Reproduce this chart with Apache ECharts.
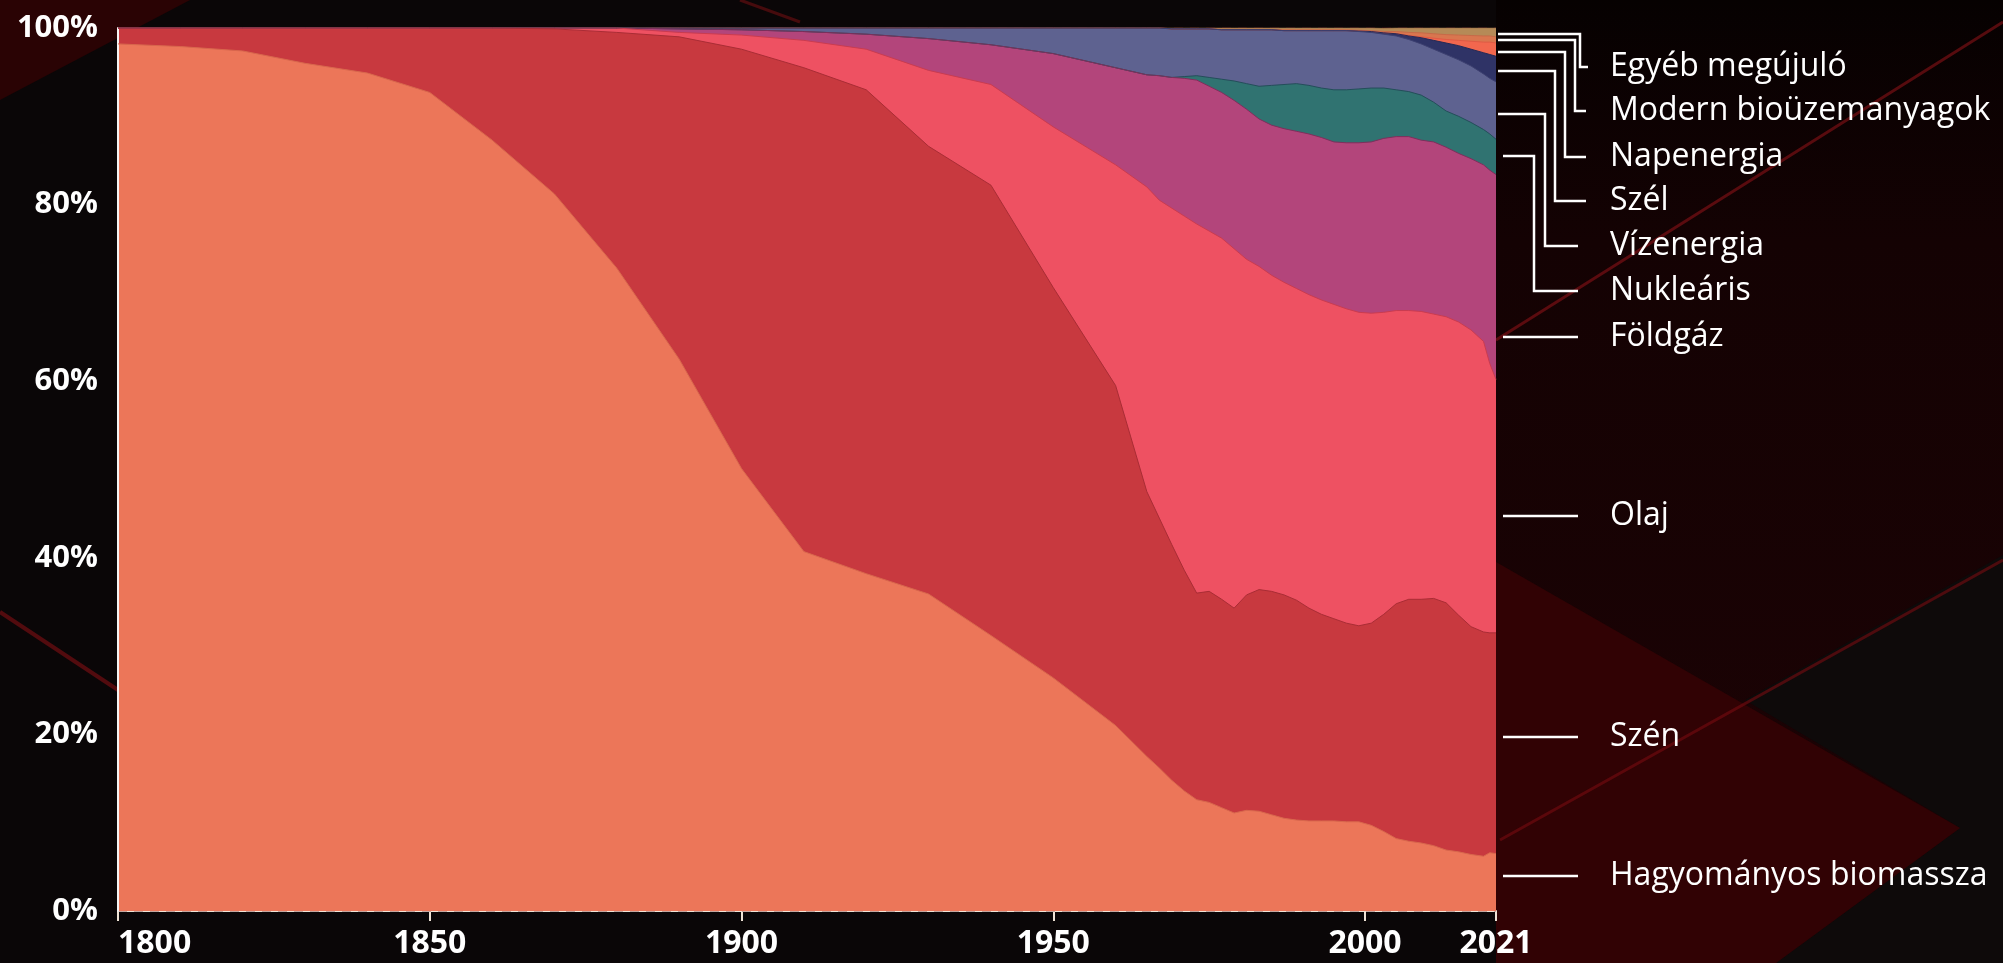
<!DOCTYPE html>
<html>
<head>
<meta charset="utf-8">
<title>Energiaforrások részesedése</title>
<script src="https://cdn.jsdelivr.net/npm/echarts@6/dist/echarts.min.js"></script>
<style>
  html, body { margin: 0; padding: 0; background: #0a0607; }
  #chart { width: 2003px; height: 963px; }
</style>
</head>
<body>
<div id="chart"></div>
<script>
// évek (1800-1960 évtizedenként, utána sűrűbben)
const years = [1800,1810,1820,1830,1840,1850,1860,1870,1880,1890,1900,1910,1920,1930,1940,1950,1960,1965,1967,1969,1971,1973,1975,1977,1979,1981,1983,1985,1987,1989,1991,1993,1995,1997,1999,2001,2003,2005,2007,2009,2011,2013,2015,2017,2019,2020,2021];

// részesedések %-ban
const biomass = [98.2,97.9,97.4,96.0,94.9,92.7,87.3,81.2,72.8,62.5,50.1,40.7,38.2,35.9,31.2,26.4,21.0,17.5,16.2,14.8,13.6,12.6,12.3,11.7,11.1,11.4,11.3,10.9,10.5,10.3,10.2,10.2,10.2,10.1,10.1,9.7,9.0,8.2,7.9,7.7,7.4,6.9,6.7,6.4,6.2,6.6,6.5];
const coal = [1.8,2.1,2.6,4.0,5.1,7.3,12.7,18.7,26.7,36.5,47.5,54.8,54.8,50.7,51.0,44.2,38.5,30.0,28.3,26.7,25.0,23.4,23.9,23.6,23.2,24.4,25.1,25.3,25.3,24.9,24.1,23.4,22.9,22.5,22.2,22.9,24.6,26.6,27.4,27.6,28.0,28.0,26.8,25.8,25.4,24.9,25.0];
const oil = [0,0,0,0,0,0,0,0.1,0.5,0.5,1.6,3.1,4.6,8.6,11.4,18.2,25.0,34.5,36.0,38.1,40.1,41.8,40.8,40.9,40.7,38.0,36.6,35.8,35.4,35.3,35.5,35.6,35.6,35.6,35.5,35.1,34.2,33.2,32.7,32.6,32.2,32.4,33.2,33.6,32.9,30.5,28.7];
const gas = [0,0,0,0,0,0,0,0,0,0.4,0.6,1.0,1.7,3.6,4.5,8.3,11.0,12.7,14.1,14.8,15.6,16.3,16.4,16.5,16.8,17.0,16.7,17.0,17.4,17.8,18.2,18.4,18.4,18.8,19.2,19.4,19.7,19.7,19.7,19.4,19.5,19.2,19.1,19.4,20.0,21.9,23.2];
const nuclear = [0,0,0,0,0,0,0,0,0,0,0,0,0,0,0,0,0,0,0,0,0.2,0.5,1.0,1.5,2.2,2.9,3.7,4.5,5.0,5.4,5.5,5.6,5.9,6.0,6.1,6.1,5.7,5.3,5.1,5.1,4.5,4.1,4.2,4.1,4.0,4.1,4.0];
const hydro = [0,0,0,0,0,0,0,0,0,0.1,0.2,0.4,0.7,1.2,1.9,2.9,4.5,5.3,5.4,5.5,5.4,5.3,5.5,5.6,5.8,6.1,6.4,6.3,6.1,6.0,6.2,6.5,6.7,6.7,6.5,6.3,6.1,6.1,5.9,5.8,6.0,6.4,6.4,6.4,6.3,6.3,6.5];
const wind = [0,0,0,0,0,0,0,0,0,0,0,0,0,0,0,0,0,0,0,0,0,0,0,0,0,0,0,0,0,0,0,0,0,0,0.05,0.1,0.15,0.25,0.4,0.7,1.0,1.3,1.6,1.9,2.4,2.7,2.9];
const solar = [0,0,0,0,0,0,0,0,0,0,0,0,0,0,0,0,0,0,0,0,0,0,0,0,0,0,0,0,0,0,0,0,0,0,0,0,0.01,0.02,0.05,0.1,0.25,0.4,0.6,0.9,1.2,1.4,1.5];
const biofuel = [0,0,0,0,0,0,0,0,0,0,0,0,0,0,0,0,0,0,0,0,0,0,0,0.05,0.05,0.05,0.05,0.05,0.1,0.1,0.1,0.1,0.1,0.1,0.1,0.1,0.15,0.23,0.35,0.45,0.5,0.55,0.6,0.65,0.7,0.7,0.7];
const otherRen = [0,0,0,0,0,0,0,0,0,0,0,0,0,0,0,0,0,0,0,0.1,0.1,0.1,0.1,0.15,0.15,0.15,0.15,0.15,0.2,0.2,0.2,0.2,0.2,0.2,0.25,0.3,0.35,0.4,0.5,0.55,0.65,0.75,0.8,0.85,0.9,0.9,1.0];

const xTicks = [1800, 1850, 1900, 1950, 2000, 2021];

// alulról felfelé
const layers = [
  { name: 'Hagyományos biomassza', data: biomass, color: '#EC7659', edge: '#d8674d' },
  { name: 'Szén', data: coal, color: '#C8393F', edge: '#a92d35' },
  { name: 'Olaj', data: oil, color: '#EE5162', edge: '#c93c50' },
  { name: 'Földgáz', data: gas, color: '#B3457B', edge: '#7e2f5c' },
  { name: 'Nukleáris', data: nuclear, color: '#307371', edge: '#244e5a' },
  { name: 'Vízenergia', data: hydro, color: '#5E6290', edge: '#3d4070' },
  { name: 'Szél', data: wind, color: '#2F3366', edge: '#262955' },
  { name: 'Napenergia', data: solar, color: '#F2674E', edge: '#e05a45' },
  { name: 'Modern bioüzemanyagok', data: biofuel, color: '#D9764F', edge: '#c66a48' },
  { name: 'Egyéb megújuló', data: otherRen, color: '#B58A57', edge: '#a37a4c' }
];

// jobb oldali feliratok: [szöveg, felirat y, vonal y a diagramnál, könyök x, vonal vége x]
const labelLayout = [
  ['Egyéb megújuló', 67, 34, 1580, 1588],
  ['Modern bioüzemanyagok', 111, 40, 1575, 1586],
  ['Napenergia', 157, 52, 1565, 1586],
  ['Szél', 201, 71, 1555, 1586],
  ['Vízenergia', 246, 114, 1545, 1578],
  ['Nukleáris', 291, 156, 1534, 1578],
  ['Földgáz', 337, null],
  ['Olaj', 516, null],
  ['Szén', 737, null],
  ['Hagyományos biomassza', 876, null]
];

// halmozott felső határok (minden réteg 0-tól a saját tetejéig, felülről lefelé rajzolva)
let running = years.map(function () { return 0; });
const tops = layers.map(function (l) {
  running = running.map(function (v, i) { return v + l.data[i]; });
  return running.slice();
});

const chart = echarts.init(document.getElementById('chart'));

const bg = [
  { type: 'polygon', z: 0, shape: { points: [[1496, 0], [2003, 0], [2003, 963], [1496, 963]] },
    style: { fill: new echarts.graphic.LinearGradient(0, 0, 0, 1, [
      { offset: 0, color: '#060101' }, { offset: 0.25, color: '#140203' }, { offset: 1, color: '#1d0305' }]) } },
  { type: 'polygon', z: 0, shape: { points: [[1745, 700], [2003, 555], [2003, 963], [1776, 963], [1960, 828]] },
    style: { fill: '#0e0a0a' } },
  { type: 'polygon', z: 0, shape: { points: [[1496, 562], [1960, 828], [1776, 963], [1496, 963]] },
    style: { fill: '#310204' } },
  { type: 'polygon', z: 0, shape: { points: [[0, 0], [190, 0], [0, 100]] },
    style: { fill: '#2a0304' } },
  { type: 'line', z: 0, shape: { x1: 1496, y1: 340, x2: 2003, y2: 22 },
    style: { stroke: 'rgba(150,20,25,0.55)', lineWidth: 3 } },
  { type: 'line', z: 0, shape: { x1: 1500, y1: 840, x2: 2003, y2: 560 },
    style: { stroke: 'rgba(120,12,16,0.6)', lineWidth: 3 } },
  { type: 'line', z: 0, shape: { x1: 0, y1: 612, x2: 118, y2: 690 },
    style: { stroke: 'rgba(130,15,20,0.6)', lineWidth: 4 } },
  { type: 'line', z: 0, shape: { x1: 740, y1: 0, x2: 800, y2: 22 },
    style: { stroke: 'rgba(130,15,20,0.5)', lineWidth: 3 } }
];

const labels = [];
labelLayout.forEach(function (l) {
  let pts;
  if (l[2] === null) {
    pts = [[1503, l[1]], [1578, l[1]]];
  } else {
    const x0 = l[0] === 'Nukleáris' ? 1503 : 1498;
    pts = [[x0, l[2]], [l[3], l[2]], [l[3], l[1]], [l[4], l[1]]];
  }
  labels.push({
    type: 'polyline', z: 10, shape: { points: pts },
    style: { stroke: '#ffffff', lineWidth: 2.5, fill: null }
  });
  labels.push({
    type: 'text', z: 10, x: 1610, y: l[1],
    style: { text: l[0], fill: '#ffffff', fontSize: 32, fontFamily: 'Open Sans', verticalAlign: 'middle' }
  });
});

const series = layers.map(function (s, k) {
  return {
    name: s.name, type: 'line',
    data: years.map(function (y, i) { return [y, Math.min(tops[k][i], 100)]; }),
    showSymbol: false, symbol: 'none', smooth: false,
    lineStyle: { width: 1, color: s.edge },
    areaStyle: { color: s.color, opacity: 1, origin: 'start' },
    emphasis: { disabled: true },
    silent: true
  };
}).reverse();

chart.setOption({
  backgroundColor: '#0a0607',
  animation: false,
  grid: { left: 118, right: 507, top: 28, bottom: 52 },
  xAxis: {
    type: 'value', min: 1800, max: 2021,
    axisLine: { show: true, lineStyle: { color: '#EFE3D6', width: 2 } },
    axisTick: { show: true, length: 10, customValues: xTicks, lineStyle: { color: '#EFE3D6', width: 2 } },
    axisLabel: {
      customValues: xTicks, margin: 17, alignMinLabel: 'left',
      formatter: function (v) { return String(v); },
      color: '#ffffff', fontSize: 32, fontWeight: 'bold', fontFamily: 'Open Sans'
    },
    splitLine: { show: false }
  },
  yAxis: {
    type: 'value', min: 0, max: 100, interval: 20, z: 3,
    axisLine: { show: true, lineStyle: { color: '#f4f4f4', width: 2 } },
    axisTick: { show: false },
    axisLabel: { formatter: '{value}%', margin: 20, color: '#ffffff', fontSize: 31, fontWeight: 'bold', fontFamily: 'Open Sans' },
    splitLine: { show: true, lineStyle: { color: 'rgba(90,10,25,0.28)', type: [9, 7], width: 2 } }
  },
  graphic: bg.concat(labels),
  series: series
});
</script>
</body>
</html>
